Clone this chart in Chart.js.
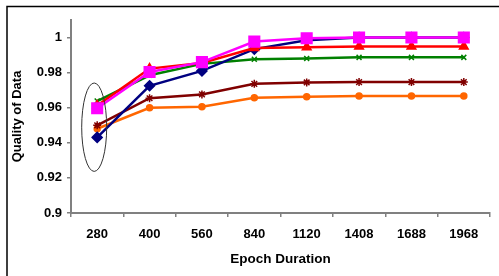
<!DOCTYPE html>
<html>
<head>
<meta charset="utf-8">
<script src="https://cdn.jsdelivr.net/npm/chart.js@4"></script>
<style>
  html, body { margin: 0; padding: 0; background: #fff; }
  #wrap { width: 499px; height: 276px; position: relative; }
</style>
</head>
<body>
<div id="wrap"><canvas id="grafico" width="499" height="276"></canvas></div>
<script>
const epochs = ['280', '400', '560', '840', '1120', '1408', '1688', '1968'];
const yTicks = [0.9, 0.92, 0.94, 0.96, 0.98, 1];

const orangeVals  = [0.948, 0.960, 0.9606, 0.9657, 0.9663, 0.9667, 0.9667, 0.9667];
const darkredVals = [0.950, 0.9654, 0.9676, 0.9736, 0.9744, 0.9746, 0.9746, 0.9746];
const greenVals   = [0.9638, 0.9785, 0.985, 0.9876, 0.9881, 0.9887, 0.9887, 0.9887];
const blueVals    = [0.9431, 0.9725, 0.981, 0.9934, 0.9985, 1.0, 1.0, 1.0];
const redVals     = [0.9612, 0.9823, 0.9855, 0.994, 0.9945, 0.9949, 0.9949, 0.9949];
const magentaVals = [0.9597, 0.9804, 0.986, 0.9977, 0.9996, 1.0, 1.0, 1.0];

// frame round the whole picture + ellipse marking the first column
const extras = {
    id: 'extras',
    beforeDraw(chart) {
        const c = chart.ctx;
        c.save();
        c.strokeStyle = '#000';
        c.lineWidth = 1.5;
        c.strokeRect(7, 6.5, 700, 500);
        c.restore();
    },
    afterDatasetsDraw(chart) {
        const c = chart.ctx;
        const x = chart.scales.x, y = chart.scales.y;
        const cx = x.getPixelForValue(0) - 3;
        const cy = y.getPixelForValue(0.9489);
        const ry = Math.abs(y.getPixelForValue(0.9489 + 0.0252) - cy);
        c.save();
        c.strokeStyle = '#333';
        c.lineWidth = 1;
        c.beginPath();
        c.ellipse(cx, cy, 12.5, ry, 0, 0, Math.PI * 2);
        c.stroke();
        c.restore();
    }
};

const serie = (data, color, style, radius) => ({
    data: data,
    borderColor: color,
    backgroundColor: color,
    borderWidth: 2.5,
    pointStyle: style,
    pointRadius: radius,
    pointHoverRadius: radius,
    pointBorderWidth: 1.5,
    tension: 0
});

// first dataset is drawn on top
const ctx = document.getElementById('grafico').getContext('2d');
const grafico = new Chart(ctx, {
    type: 'line',
    data: {
        labels: epochs,
        datasets: [
            serie(magentaVals, '#ff00ff', 'rect', 7.5),
            serie(redVals, '#ff0000', 'triangle', 5),
            serie(blueVals, '#000080', 'rectRot', 5),
            serie(greenVals, '#008000', 'crossRot', 3.5),
            serie(darkredVals, '#800000', 'star', 4),
            serie(orangeVals, '#ff6600', 'circle', 3)
        ]
    },
    options: {
        responsive: false,
        animation: false,
        layout: { padding: { top: 20, right: 2, left: 0, bottom: 0 } },
        plugins: { legend: { display: false }, tooltip: { enabled: false } },
        scales: {
            x: {
                offset: true,
                grid: { offset: true, drawOnChartArea: false, tickLength: 4, color: '#808080', lineWidth: 1.5 },
                border: { color: '#808080', width: 2 },
                ticks: { color: '#000', padding: 10, maxRotation: 0, font: { family: 'Liberation Sans, Arial', size: 13, weight: 'bold' } },
                title: { display: true, text: 'Epoch Duration', color: '#000', padding: { top: 0, bottom: 9 }, font: { family: 'Liberation Sans, Arial', size: 13.5, weight: 'bold' } },
                afterFit: (s) => { s.height = 63; }
            },
            y: {
                min: 0.9,
                max: 1.01,
                afterBuildTicks: (s) => { s.ticks = yTicks.map(v => ({ value: v })); },
                grid: { drawOnChartArea: false, tickLength: 4, color: '#808080', lineWidth: 1.5 },
                border: { color: '#808080', width: 2 },
                ticks: { color: '#000', padding: 5, callback: (v) => String(+v.toFixed(2)), font: { family: 'Liberation Sans, Arial', size: 13, weight: 'bold' } },
                title: { display: true, text: 'Quality of Data', color: '#000', padding: { top: 10, bottom: 0 }, font: { family: 'Liberation Sans, Arial', size: 13, weight: 'bold' } },
                afterFit: (s) => { s.width = 71; }
            }
        }
    },
    plugins: [extras]
});
</script>
</body>
</html>
